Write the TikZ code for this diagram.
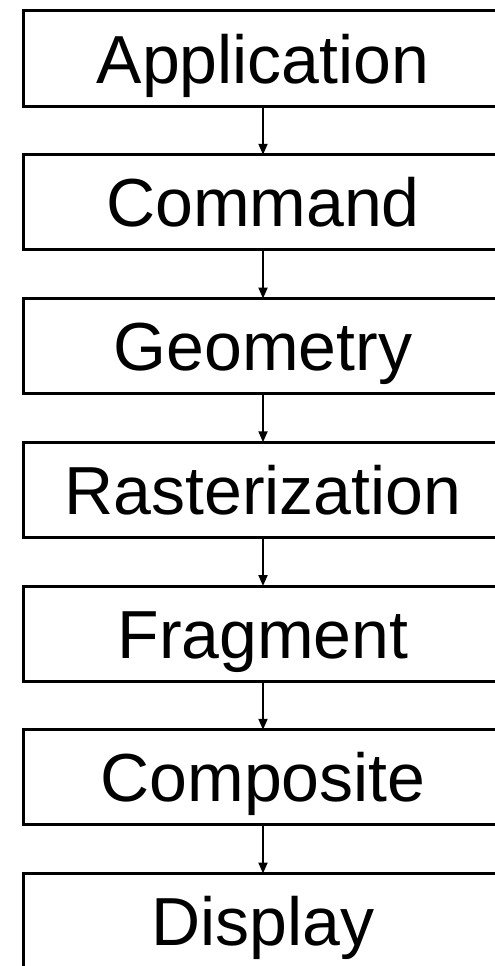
\documentclass[tikz,border=0pt]{standalone}
\usepackage{fontspec}
\setmainfont{Liberation Sans}
\usetikzlibrary{arrows.meta}

\tikzset{
  stage/.style={draw, line width=3pt, minimum width=480pt, minimum height=95pt,
    inner sep=0pt, outer sep=0pt, text height=49pt, text depth=0pt,
    font=\fontsize{68}{80}\selectfont},
  flow/.style={line width=2pt, -{Triangle[width=9pt,length=11pt]}}
}

\begin{document}
\begin{tikzpicture}[x=1pt, y=1pt]
  \useasboundingbox (0,0) rectangle (495,-966);
  \clip (0,0) rectangle (495,-966);
  \node[stage] (app)  at (263,-58.5)  {Application};
  \node[stage] (cmd)  at (263,-202.25) {Command};
  \node[stage] (geom) at (263,-346)   {Geometry};
  \node[stage] (rast) at (263,-489.75) {Rasterization};
  \node[stage] (frag) at (263,-633.5) {Fragment};
  \node[stage] (comp) at (263,-777.25) {Composite};
  \node[stage] (disp) at (263,-921)   {Display};
  \draw[flow] (app) -- (cmd);
  \draw[flow] (cmd) -- (geom);
  \draw[flow] (geom) -- (rast);
  \draw[flow] (rast) -- (frag);
  \draw[flow] (frag) -- (comp);
  \draw[flow] (comp) -- (disp);
\end{tikzpicture}
\end{document}
